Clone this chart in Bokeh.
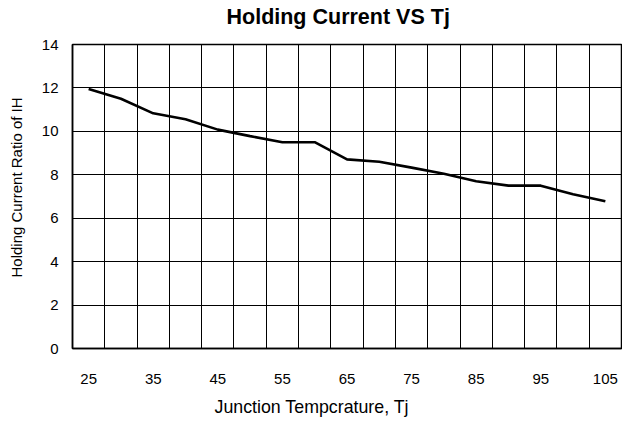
from bokeh.plotting import figure
from bokeh.models import FixedTicker, Title
from bokeh.embed import file_html
from bokeh.resources import INLINE

# Data
tj = [25, 30, 35, 40, 45, 50, 55, 60, 65, 70, 75, 80, 85, 90, 95, 100, 105]
ih_ratio = [11.95, 11.5, 10.83, 10.56, 10.08, 9.78, 9.5, 9.5, 8.71, 8.6, 8.33, 8.05, 7.7, 7.5, 7.5, 7.1, 6.78]
x_tick_labels = [25, 35, 45, 55, 65, 75, 85, 95, 105]
y_ticks = [0, 2, 4, 6, 8, 10, 12, 14]

FONT = "Liberation Sans"
step = tj[1] - tj[0]
x_min = tj[0] - step / 2
x_max = tj[-1] + step / 2
grid_x = [t + step / 2 for t in tj[:-1]]

p = figure(width=622, height=425, x_range=(x_min, x_max), y_range=(0, 14),
           output_backend="svg", toolbar_location=None, title=None,
           min_border_left=72, min_border_right=1, min_border_top=44, min_border_bottom=76)

# spacer between frame and main title, then the main title
p.add_layout(Title(text=" ", text_font_size="1px", standoff=11), "above")
p.add_layout(Title(text="Holding Current VS Tj", text_font=FONT, text_font_size="21.5px",
                   text_font_style="bold", text_color="black", align="left",
                   offset=154, standoff=4), "above")

p.outline_line_color = "black"
p.outline_line_width = 1.5
p.outline_line_alpha = 1

# x axis
p.xaxis.ticker = FixedTicker(ticks=x_tick_labels)
p.xaxis.major_tick_line_color = None
p.xaxis.minor_tick_line_color = None
p.xaxis.axis_line_color = "black"
p.xaxis.axis_line_width = 1.5
p.xaxis.major_label_text_font = FONT
p.xaxis.major_label_text_font_size = "15px"
p.xaxis.major_label_text_color = "black"
p.xaxis.major_label_standoff = 19

# y axis
p.yaxis.ticker = FixedTicker(ticks=y_ticks)
p.yaxis.major_tick_out = 0
p.yaxis.major_tick_in = 4
p.yaxis.major_tick_line_color = "black"
p.yaxis.minor_tick_line_color = None
p.yaxis.axis_line_color = "black"
p.yaxis.axis_line_width = 1.5
p.yaxis.major_label_text_font = FONT
p.yaxis.major_label_text_font_size = "15px"
p.yaxis.major_label_text_color = "black"
p.yaxis.major_label_standoff = 14
p.yaxis.axis_label = " "
p.yaxis.axis_label_text_font_size = "1px"
p.yaxis.axis_label_standoff = 6

# grids
p.xgrid.ticker = FixedTicker(ticks=grid_x)
p.xgrid.grid_line_color = "black"
p.xgrid.grid_line_alpha = 1
p.xgrid.grid_line_width = 1
p.ygrid.ticker = FixedTicker(ticks=y_ticks[1:-1])
p.ygrid.grid_line_color = "black"
p.ygrid.grid_line_alpha = 1
p.ygrid.grid_line_width = 1

# axis titles
xt = Title(text="Junction Tempcrature, Tj", align="left", offset=142,
           text_font=FONT, text_font_size="17.8px", text_font_style="normal",
           text_color="black", standoff=17)
p.add_layout(xt, "below")
yt = Title(text="Holding Current  Ratio of IH", align="left", offset=71,
           text_font=FONT, text_font_size="15px", text_font_style="normal",
           text_color="black", standoff=8)
p.add_layout(yt, "left")

p.line(tj, ih_ratio, line_color="black", line_width=2.6)

open("out.html", "w").write(file_html(p, INLINE))
